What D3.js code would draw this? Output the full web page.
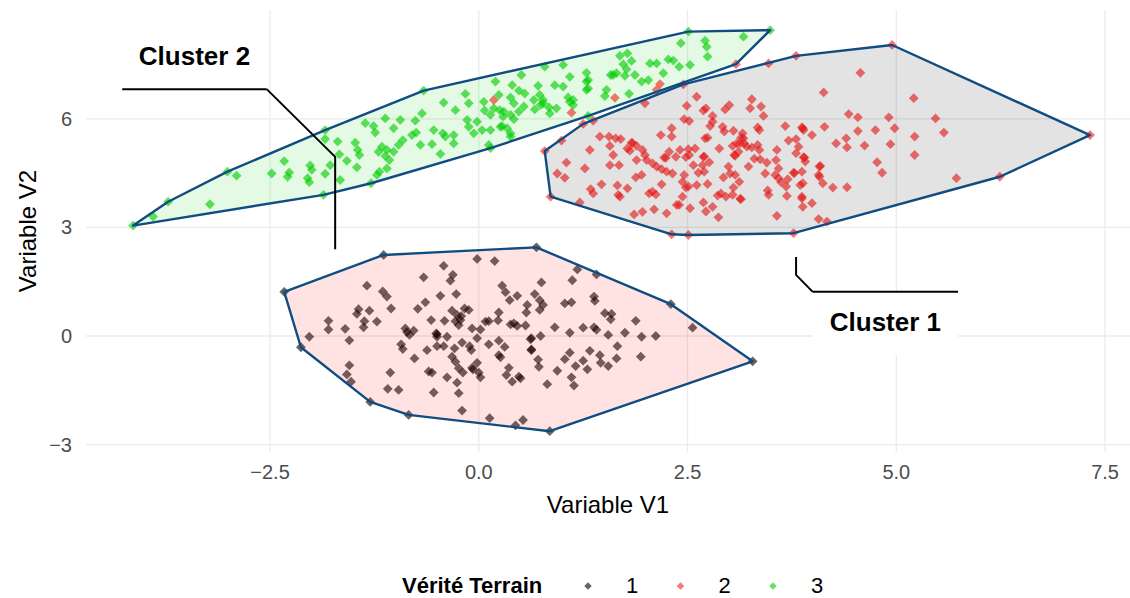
<!DOCTYPE html>
<html>
<head>
<meta charset="utf-8">
<script src="https://cdn.jsdelivr.net/npm/d3@7"></script>
<style>
  html, body { margin: 0; padding: 0; background: #fff; }
  svg { display: block; font-family: "Liberation Sans", Arial, Helvetica, sans-serif; }
</style>
</head>
<body>
<div id="chart"></div>
<script>
// ---- data ----
// points grouped by the hull (estimated cluster) they belong to; truth label is the colour
const hull1Truth1 = [
  [-2.33,1.22],[-2.13,-0.31],[-1.30,-1.82],[-0.84,-2.18],[0.44,-2.47],[0.85,-2.63],[3.28,-0.70],[2.30,0.88],[1.41,1.70],[0.69,2.45],[-1.14,2.24],
  [-0.02,2.13],[0.19,2.07],[-0.42,1.94],[-0.31,1.69],[-0.66,1.62],[-0.34,1.53],[-1.34,1.39],[-1.15,1.23],[-1.10,1.09],[0.28,1.39],
  [0.32,1.21],[0.46,1.11],[0.37,0.99],[-0.46,1.11],[-0.27,1.16],[-0.64,0.93],[-0.73,0.75],[-1.05,0.76],[-1.44,0.74],[-1.31,0.70],
  [-1.46,0.61],[-0.32,0.70],[-0.17,0.76],[-0.12,0.72],[-0.26,0.58],[-0.21,0.55],[-0.22,0.44],[-0.28,0.41],[-0.41,0.42],[-0.57,0.44],
  [-0.24,0.30],[0.24,0.65],[0.23,0.43],[0.08,0.40],[0.12,0.41],[0.38,0.32],[0.46,0.28],[-1.80,0.42],[-1.80,0.18],[-1.60,0.20],
  [-1.37,0.41],[-1.38,0.24],[-1.22,0.40],[-1.55,-0.12],[-2.03,-0.02],[-0.88,0.21],[-0.86,0.11],[-0.78,0.15],[-0.83,0.03],[-0.51,0.07],
  [-0.50,-0.02],[-0.08,0.21],[0.02,0.18],[-0.02,-0.06],[-0.38,-0.02],[-0.20,-0.18],[-0.11,-0.28],[-0.09,-0.39],[-0.29,-0.34],[-0.42,-0.28],
  [-0.50,-0.28],[-0.62,-0.39],[-0.93,-0.23],[-0.91,-0.36],[-0.77,-0.62],[-0.32,-0.57],[-0.28,-0.71],[-0.24,-0.89],[-0.19,-1.01],[-0.08,-0.88],
  [-0.02,-0.74],[0.00,-1.01],[0.02,-1.14],[0.12,-0.23],[0.24,-0.13],[0.31,-0.30],[0.24,-0.53],[0.26,-0.59],[0.36,-0.88],[0.33,-1.08],
  [0.40,-1.26],[0.48,-1.12],[-0.60,-0.98],[-0.56,-1.01],[-0.38,-1.14],[-0.26,-1.29],[-1.06,-1.01],[-1.55,-0.81],[-1.58,-1.06],[-1.53,-1.26],
  [-1.09,-1.46],[-0.96,-1.49],[-0.54,-1.56],[-0.24,-1.58],[-0.20,-2.06],[0.13,-2.27],
  [0.75,1.48],[1.12,1.54],[1.18,1.84],[0.67,1.16],[0.73,0.99],[0.77,0.86],[0.73,0.72],[0.58,0.86],[0.57,0.65],[1.03,0.90],
  [1.11,0.93],[1.38,1.09],[1.39,0.97],[1.51,0.63],[1.59,0.61],[1.58,0.46],[1.88,0.42],[0.56,0.29],[0.63,-0.06],[0.74,0.00],
  [0.63,-0.37],[0.91,0.24],[1.09,0.09],[1.25,0.23],[1.38,0.24],[1.41,0.17],[1.55,0.03],[1.75,0.09],[1.95,-0.02],[2.12,0.00],
  [2.56,0.23],[1.66,-0.28],[1.65,-0.62],[1.45,-0.53],[1.46,-0.74],[1.55,-0.83],[1.33,-0.41],[1.09,-0.46],[1.03,-0.64],[0.94,-0.96],
  [1.16,-0.83],[1.25,-0.68],[1.30,-0.92],[0.71,-0.65],[0.72,-0.85],[0.82,-1.33],[1.11,-1.14],[1.14,-1.37],[1.94,-0.57],[0.53,-2.32],
  [0.42,0.35],[0.62,-0.09],[0.63,-0.39],[0.50,-1.17],[-0.50,0.05],[-0.07,-0.92]
];

const hull2Truth2 = [
  [0.79,5.11],[0.86,3.85],[2.31,2.81],[2.51,2.79],[3.77,2.84],[6.24,4.40],[7.32,5.55],[4.95,8.04],[3.80,7.74],[3.47,7.53],
  [0.99,5.40],[1.25,5.86],[1.37,5.95],[1.99,6.43],[2.45,6.95],
  [2.49,6.36],[2.61,6.61],[2.69,6.23],[2.72,6.29],[2.80,6.08],[2.95,6.26],[3.00,6.38],[3.27,6.54],[3.25,6.29],[3.38,6.34],
  [3.41,6.08],[2.46,5.99],[2.52,5.94],[2.31,5.74],[2.18,5.55],[2.31,5.51],[2.77,5.80],[2.80,5.92],[2.92,5.78],[2.94,5.65],
  [3.05,5.67],[3.16,5.60],[3.14,5.48],[3.18,5.32],[3.09,5.32],[3.04,5.25],[3.34,5.76],[3.36,5.69],[3.34,5.28],[3.36,5.14],
  [3.67,5.80],[3.87,5.76],[3.89,5.69],[3.99,5.55],[3.71,5.40],[3.80,5.44],[3.83,5.23],[1.45,5.51],[1.56,5.51],[1.64,5.46],
  [1.70,5.44],[1.57,5.25],[1.78,5.18],[1.83,5.34],[1.89,5.25],[1.81,5.12],[1.96,5.14],[1.33,5.14],[1.61,5.00],[2.22,4.93],
  [2.28,5.09],[2.36,4.95],[2.48,4.94],[2.51,5.16],[2.59,5.18],[2.52,5.00],[2.69,4.95],[2.76,4.80],[2.71,5.46],[2.74,5.48],
  [2.88,5.18],[3.06,5.00],[3.11,5.09],[3.21,5.23],[3.27,5.21],[3.13,5.32],[3.17,5.46],[1.05,4.79],[1.27,4.63],[1.57,4.72],
  [1.68,4.72],[1.89,4.86],[2.01,4.86],[1.99,5.00],[2.08,4.77],[2.13,4.68],[2.19,4.61],[2.32,4.49],[2.25,4.54],[2.46,4.45],
  [2.57,4.72],[2.68,4.72],[2.70,4.54],[2.63,4.51],[2.41,5.14],[2.99,4.68],[3.01,4.49],[3.07,4.45],[3.12,4.26],[2.93,4.38],
  [3.23,4.68],[3.30,4.90],[3.37,4.88],[3.45,4.79],[3.57,5.14],[3.56,4.86],[3.59,4.63],[3.77,4.51],[3.89,4.94],[3.91,4.82],
  [3.80,5.05],[3.87,4.54],[3.55,4.45],[3.59,4.36],[3.70,4.33],[3.43,4.49],[3.62,4.25],[3.85,4.17],[4.08,4.68],[4.08,4.40],
  [0.94,4.49],[1.03,4.37],[1.47,4.19],[1.34,4.06],[1.37,3.94],[1.66,4.16],[1.78,4.08],[1.67,3.90],[1.69,3.85],[1.95,4.45],
  [1.88,4.38],[2.04,3.94],[2.12,3.91],[2.19,4.19],[2.44,4.26],[2.51,4.13],[2.48,4.10],[2.61,4.17],[2.74,4.20],[2.44,3.85],
  [2.40,3.62],[2.53,3.53],[2.69,3.69],[2.80,3.57],[2.86,3.88],[2.96,3.85],[3.04,3.90],[3.13,3.79],[2.87,3.28],[2.72,3.44],
  [2.90,3.94],[3.05,4.10],[3.47,3.90],[3.46,4.02],[3.68,4.13],[3.69,3.87],[3.87,3.85],[3.88,3.57],[3.99,3.67],[3.57,3.32],
  [1.21,3.69],[1.86,3.36],[1.96,3.43],[2.10,3.50],[2.25,3.39],[2.37,3.62],[2.08,3.99],
  [4.57,7.27],[4.13,6.73],[5.21,6.57],[4.43,6.13],[4.54,6.04],[4.91,6.04],[5.47,6.01],[4.14,5.78],[4.54,5.66],[4.75,5.69],
  [4.98,5.74],[5.57,5.62],[4.40,5.46],[4.28,5.32],[4.41,5.21],[4.62,5.26],[4.93,5.30],[5.22,5.51],[5.22,5.00],[4.77,4.80],
  [4.83,4.51],[4.09,4.70],[4.07,4.45],[4.12,4.22],[4.24,4.10],[4.41,4.11],[3.88,4.22],[3.87,3.80],[4.07,3.23],[4.17,3.16],
  [5.72,4.36],
  [3.88,5.74],[2.24,4.92],[2.70,4.96],[3.78,4.50],[3.90,4.93],[3.07,4.98],[1.84,5.33],[3.14,3.78]
];

const hull3Truth3 = [
  [-4.14,3.05],[-3.72,3.71],[-3.01,4.54],[-1.84,5.69],[-0.66,6.78],[2.51,8.41],[3.49,8.45],[1.31,6.08],[0.14,5.19],[-1.29,4.22],[-1.86,3.90],
  [-3.90,3.30],[-3.22,3.64],[-2.90,4.43],[-2.48,4.49],[-2.33,4.83],[-2.27,4.52],[-2.29,4.40],[-2.02,4.71],[-2.00,4.59],[-2.03,4.25],
  [-2.05,4.36],[-1.84,4.48],[-1.78,4.72],[-1.66,4.31],[-1.67,5.02],[-1.58,4.84],[-1.69,5.37],[-1.84,5.44],[-1.48,5.34],[-1.45,5.14],
  [-1.43,5.00],[-1.46,4.66],[-1.36,5.88],[-1.26,5.80],[-1.24,5.62],[-1.12,6.01],[-1.16,5.23],[-1.20,5.09],[-1.10,5.14],[-1.12,4.97],
  [-1.07,4.86],[-1.02,5.09],[-1.02,5.74],[-0.94,5.97],[-0.91,5.41],[-0.96,5.28],[-1.19,4.54],[-1.22,4.45],[-1.10,4.63],[-0.76,5.95],
  [-0.75,5.62],[-0.80,5.55],[-0.70,5.28],[-0.68,6.15],[-0.56,5.30],[-0.46,5.03],[-0.54,5.69],[-0.43,5.60],[-0.40,5.51],[-0.30,5.55],
  [-0.42,6.45],[-0.28,6.24],[-0.30,5.32],
  [-0.16,6.69],[-0.12,6.43],[-0.14,5.97],[-0.12,5.78],[0.06,6.47],[0.07,6.23],[0.20,7.03],[0.24,6.66],[0.18,6.29],[0.25,6.24],
  [0.14,6.11],[0.30,6.20],[0.40,6.93],[0.38,6.59],[0.48,6.78],[0.42,6.43],[0.38,6.11],[0.42,5.99],[0.29,6.06],[0.34,5.74],
  [0.26,5.78],[-0.02,5.92],[0.04,5.69],[0.38,5.60],[0.51,7.21],[0.55,6.70],[0.66,6.52],[0.71,6.91],[0.73,6.66],[0.77,6.52],
  [0.67,6.26],[0.77,6.43],[0.84,6.32],[0.93,6.29],[0.79,7.44],[1.01,7.49],[1.07,6.59],[1.09,6.47],[1.13,6.52],[1.09,7.16],
  [1.29,7.27],[1.31,6.84],[1.29,7.03],[1.51,6.63],[1.53,6.80],[1.61,7.21],[1.69,7.74],[1.78,7.81],[1.83,7.60],[1.73,7.51],
  [1.77,7.37],[1.58,7.21],[1.65,7.26],[1.75,7.19],[1.80,6.69],[1.87,7.21],[1.95,7.03],[2.03,7.07],[2.05,7.53],[2.13,7.53],
  [2.21,7.26],[2.27,7.64],[2.33,7.61],[2.40,7.44],[2.42,8.09],[2.53,7.49],[2.71,8.16],[2.73,7.99],[2.74,7.72],[3.17,8.27],
  [-0.06,5.60],[0.14,5.69],[0.28,5.80],[0.38,5.51],[0.12,5.28],[0.48,6.20],[0.54,6.34],[0.85,6.15],[0.74,6.38],[0.91,6.93],
  [1.01,6.89],[1.13,6.38],[1.29,6.80],[1.31,7.07]
];

// true-label-2 points that fall in hull 3
const hull3Truth2 = [
  [0.18,6.52],[1.11,6.17],[1.63,6.58],[2.17,6.96],[2.13,6.80],[3.08,7.51]
];

const truthLabels = ['1', '2', '3'];
const truthColors = ['#000000', '#ff1a1a', '#00cd00'];
// fill of each hull: dark points sit in the pink hull, red points in the grey one
const hullFills = ['rgba(255,0,0,0.11)', 'rgba(0,0,0,0.11)', 'rgba(0,205,0,0.10)'];

const xTicks = [-2.5, 0, 2.5, 5, 7.5];
const yTicks = [-3, 0, 3, 6];

// annotation labels: box [x0, x1, y0, y1] and connector path, in data units
const annotations = [
  { text: 'Cluster 2', box: [-4.27, -2.54, 6.82, 8.56], edgeY: 6.82,
    path: [[-2.54, 6.82], [-1.72, 4.95], [-1.72, 2.40]] },
  { text: 'Cluster 1', box: [4.00, 5.74, -0.53, 1.22], edgeY: 1.22,
    path: [[4.00, 1.22], [3.80, 1.69], [3.80, 2.18]] }
];

// ---- layout ----
const W = 1130, H = 598;
const panel = { left: 86, right: 1130, top: 10, bottom: 452 };

const x = d3.scaleLinear().domain([-4.704, 7.799]).range([panel.left, panel.right]);
const y = d3.scaleLinear().domain([-3.204, 9.006]).range([panel.bottom, panel.top]);
const color = d3.scaleOrdinal().domain(truthLabels).range(truthColors);

const svg = d3.select('#chart').append('svg').attr('width', W).attr('height', H);

// grid
const grid = svg.append('g').attr('stroke', '#ebebeb').attr('stroke-width', 1.3);
grid.selectAll('.vx').data(xTicks).enter().append('line')
  .attr('x1', d => x(d)).attr('x2', d => x(d)).attr('y1', panel.top).attr('y2', panel.bottom);
grid.selectAll('.hy').data(yTicks).enter().append('line')
  .attr('x1', panel.left).attr('x2', panel.right).attr('y1', d => y(d)).attr('y2', d => y(d));

// hull groups
const toPts = (arr, t) => arr.map(p => ({ x: p[0], y: p[1], t }));
const groups = [
  { pts: toPts(hull1Truth1, '1'), fill: hullFills[0] },
  { pts: toPts(hull2Truth2, '2'), fill: hullFills[1] },
  { pts: toPts(hull3Truth3, '3').concat(toPts(hull3Truth2, '2')), fill: hullFills[2] }
];
groups.forEach(g => {
  g.hull = d3.polygonHull(g.pts.map(d => [x(d.x), y(d.y)]));
});

// points
const diamond = d3.symbol().type(d3.symbolSquare).size(48)();
const allPts = groups.flatMap(g => g.pts);
svg.append('g').selectAll('path').data(allPts).enter().append('path')
  .attr('d', diamond)
  .attr('transform', d => `translate(${x(d.x)},${y(d.y)}) rotate(45)`)
  .attr('fill', d => color(d.t))
  .attr('fill-opacity', d => d.t === '1' ? 0.6 : 0.62);

// hulls drawn over the points
svg.append('g').selectAll('path').data(groups).enter().append('path')
  .attr('d', g => 'M' + g.hull.join('L') + 'Z')
  .attr('fill', g => g.fill)
  .attr('stroke', '#0f4c81')
  .attr('stroke-width', 2.4)
  .attr('stroke-linejoin', 'round');

// annotations
const ann = svg.append('g');
annotations.forEach(a => {
  const [x0, x1, y0, y1] = a.box;
  ann.append('rect')
    .attr('x', x(x0)).attr('y', y(y1))
    .attr('width', x(x1) - x(x0)).attr('height', y(y0) - y(y1))
    .attr('fill', '#fff');
  ann.append('text')
    .attr('x', (x(x0) + x(x1)) / 2)
    .attr('y', (y(y0) + y(y1)) / 2)
    .attr('dy', '0.3em')
    .attr('text-anchor', 'middle')
    .attr('font-weight', 'bold')
    .attr('font-size', 26)
    .attr('fill', '#000')
    .text(a.text);
  ann.append('line')
    .attr('x1', x(x0)).attr('x2', x(x1))
    .attr('y1', y(a.edgeY)).attr('y2', y(a.edgeY))
    .attr('stroke', '#000').attr('stroke-width', 2);
  ann.append('path')
    .attr('d', d3.line().x(p => x(p[0])).y(p => y(p[1]))(a.path))
    .attr('fill', 'none')
    .attr('stroke', '#000').attr('stroke-width', 2);
});

// axis labels
svg.append('g').selectAll('text').data(xTicks).enter().append('text')
  .attr('x', d => x(d)).attr('y', panel.bottom + 27)
  .attr('text-anchor', 'middle')
  .attr('font-size', 20).attr('fill', '#4d4d4d')
  .text(d => d3.format('.1f')(d).replace('-', '\u2212'));

svg.append('g').selectAll('text').data(yTicks).enter().append('text')
  .attr('x', panel.left - 14).attr('y', d => y(d))
  .attr('dy', '0.35em')
  .attr('text-anchor', 'end')
  .attr('font-size', 20).attr('fill', '#4d4d4d')
  .text(d => String(d).replace('-', '\u2212'));

svg.append('text')
  .attr('x', (panel.left + panel.right) / 2).attr('y', 513)
  .attr('text-anchor', 'middle')
  .attr('font-size', 24).attr('fill', '#000')
  .text('Variable V1');

svg.append('text')
  .attr('transform', `translate(36,${(panel.top + panel.bottom) / 2}) rotate(-90)`)
  .attr('text-anchor', 'middle')
  .attr('font-size', 24).attr('fill', '#000')
  .text('Variable V2');

// legend
const legend = svg.append('g').attr('transform', 'translate(0,586)');
legend.append('text')
  .attr('x', 402).attr('dy', '0.33em')
  .attr('font-weight', 'bold').attr('font-size', 22)
  .text('Vérité Terrain');
const keyX = d3.scalePoint().domain(truthLabels).range([588, 773]);
const key = legend.selectAll('.key').data(truthLabels).enter().append('g')
  .attr('transform', d => `translate(${keyX(d)},0)`);
key.append('path')
  .attr('d', d3.symbol().type(d3.symbolSquare).size(28)())
  .attr('transform', 'rotate(45)')
  .attr('fill', d => color(d))
  .attr('fill-opacity', 0.6);
key.append('text')
  .attr('x', 44).attr('dy', '0.33em')
  .attr('text-anchor', 'middle')
  .attr('font-size', 22)
  .text(d => d);
</script>
</body>
</html>
